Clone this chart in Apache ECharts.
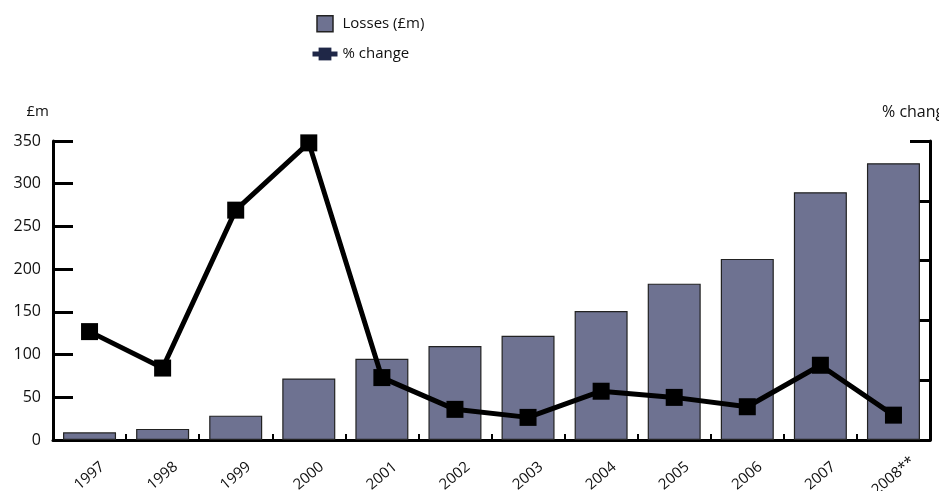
<!DOCTYPE html>
<html>
<head>
<meta charset="utf-8">
<script src="https://cdn.jsdelivr.net/npm/echarts@6/dist/echarts.min.js"></script>
<style>
  html, body { margin: 0; padding: 0; background: #fff; }
  #main { width: 939px; height: 491px; }
</style>
</head>
<body>
<div id="main"></div>
<script>
// categories and values
var years = ['1997', '1998', '1999', '2000', '2001', '2002', '2003', '2004', '2005', '2006', '2007', '2008**'];
var losses = [9, 13, 28.5, 72, 95, 110, 122, 151, 183, 212, 290, 324];
var pctChange = [58, 38.5, 123, 159, 33.4, 16.4, 12.1, 26.1, 22.8, 17.8, 40, 13.3];
var leftTicks = [0, 350, 50];   // min, max, interval
var rightTicks = [0, 160, 32];

var myChart = echarts.init(document.getElementById('main'));
var font = 'Open Sans';

var option = {
    animation: false,
    textStyle: { fontFamily: font },
    legend: {
        orient: 'vertical',
        left: 310,
        top: 15,
        padding: 0,
        itemWidth: 25,
        itemHeight: 16,
        itemGap: 14,
        symbolKeepAspect: true,
        textStyle: { fontSize: 15, color: '#111', fontFamily: font },
        data: [
            {
                name: 'Losses (£m)',
                icon: 'path://M0,0L10,0L10,10L0,10Z',
                itemStyle: { color: '#6e7291', borderColor: '#222', borderWidth: 1.5 }
            },
            {
                name: '% change',
                itemStyle: { color: '#1f2747' },
                lineStyle: { color: '#1f2747', width: 5 }
            }
        ]
    },
    grid: {
        left: 53,
        right: 9,
        top: 141,
        bottom: 51,
        containLabel: false,
        outerBoundsMode: 'none'
    },
    xAxis: {
        type: 'category',
        data: years,
        axisLine: { lineStyle: { color: '#000', width: 3 } },
        axisTick: {
            show: true,
            inside: true,
            length: 6,
            alignWithLabel: false,
            lineStyle: { color: '#000', width: 2 }
        },
        axisLabel: {
            rotate: 40,
            align: 'center',
            verticalAlign: 'middle',
            margin: 36,
            fontSize: 15,
            color: '#111',
            fontFamily: font
        }
    },
    yAxis: [
        {
            type: 'value',
            min: leftTicks[0],
            max: leftTicks[1],
            interval: leftTicks[2],
            name: '£m',
            nameLocation: 'end',
            nameGap: 22,
            nameTextStyle: { fontSize: 15, color: '#111', align: 'right', padding: [0, 4, 0, 0] },
            axisLine: { show: true, lineStyle: { color: '#000', width: 3 } },
            axisTick: { show: true, inside: true, length: 20, lineStyle: { color: '#000', width: 3 } },
            axisLabel: { fontSize: 16, color: '#111', margin: 12 },
            splitLine: { show: false }
        },
        {
            type: 'value',
            min: rightTicks[0],
            max: rightTicks[1],
            interval: rightTicks[2],
            position: 'right',
            axisLine: { show: true, lineStyle: { color: '#000', width: 3 } },
            axisTick: { show: true, inside: true, length: 20, lineStyle: { color: '#000', width: 3 } },
            axisLabel: { show: false },
            splitLine: { show: false }
        }
    ],
    graphic: [
        {
            type: 'text',
            left: 882,
            top: 104,
            style: { text: '% change', fontSize: 16, fill: '#111', fontFamily: font }
        }
    ],
    series: [
        {
            name: 'Losses (£m)',
            type: 'bar',
            yAxisIndex: 0,
            barWidth: 53,
            data: losses,
            itemStyle: { color: '#6e7291', borderColor: '#222', borderWidth: 1.2 }
        },
        {
            name: '% change',
            type: 'line',
            yAxisIndex: 1,
            data: pctChange,
            symbol: 'rect',
            symbolSize: 17,
            lineStyle: { color: '#000', width: 5 },
            itemStyle: { color: '#000' },
            z: 5
        }
    ]
};

myChart.setOption(option);
</script>
</body>
</html>
